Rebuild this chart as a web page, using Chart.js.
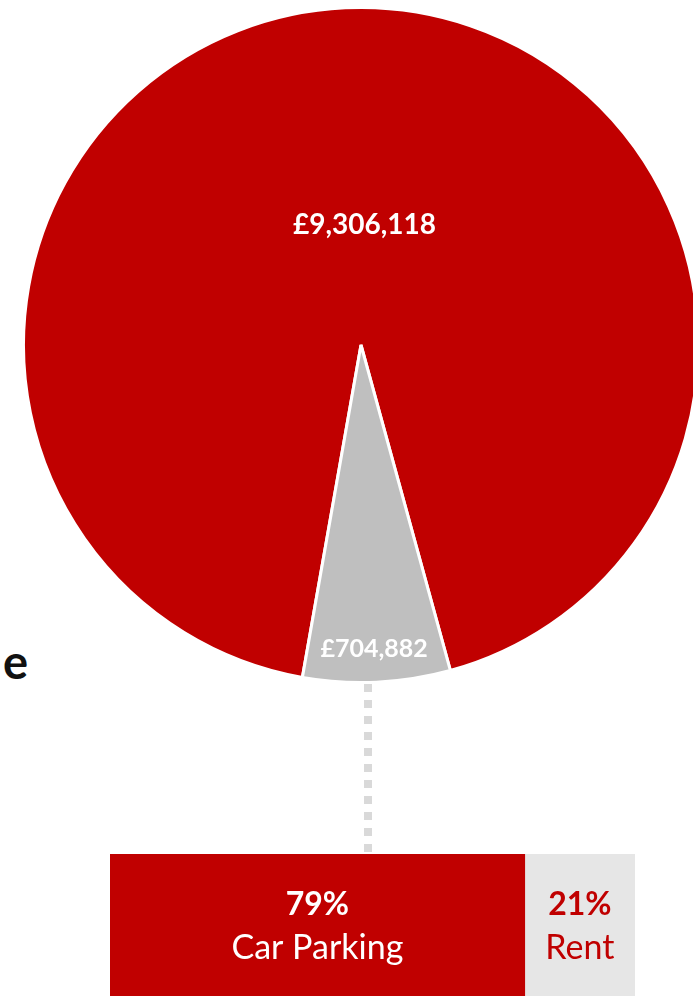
<!DOCTYPE html>
<html>
<head>
<meta charset="utf-8">
<script src="https://cdn.jsdelivr.net/npm/chart.js@4/dist/chart.umd.min.js"></script>
<style>
  html, body { margin: 0; padding: 0; background: #ffffff; }
  body { width: 693px; height: 996px; position: relative; overflow: hidden; font-family: Lato, "Open Sans", sans-serif; }
  #pieWrap { position: absolute; left: 22px; top: 6px; width: 678px; height: 678px; }
  #barWrap { position: absolute; left: 110px; top: 854px; width: 525px; height: 144px; }
  #leader { position: absolute; left: 364px; top: 684px; width: 8px; height: 169px;
            background: repeating-linear-gradient(to bottom, #d9d9d9 0 8px, transparent 8px 16px); }
  #tail { position: absolute; left: 3px; top: 638px; font: 700 47px Lato, sans-serif; line-height: 46px; color: #111; }
</style>
</head>
<body>
<div id="tail">e</div>
<div id="pieWrap"><canvas id="pie" width="678" height="678"></canvas></div>
<div id="leader"></div>
<div id="barWrap"><canvas id="bar" width="525" height="144"></canvas></div>
<script>
// Income split: main total vs. the "other" slice that is broken down below
const pieCategories = ['Main income', 'Other income'];
const pieValues = [9306118, 704882];

// Breakdown of the "other" slice
const splitCategories = ['Car Parking', 'Rent'];
const splitPercents = [79, 21];

const RED = '#C00000';
const PIE_GREY = '#BFBFBF';
const BAR_GREY = '#E6E6E6';

const money = v => '£' + v.toLocaleString('en-GB');

// Value labels placed inside each slice (radius fraction, angular nudge in degrees)
const labelSpots = [
  { frac: 0.357, nudge: 4.3, size: 28 },
  { frac: 0.90, nudge: 0.2, size: 25 }
];

const pieLabels = {
  id: 'pieLabels',
  afterDatasetsDraw(chart) {
    const ctx = chart.ctx;
    const meta = chart.getDatasetMeta(0);
    ctx.save();
    ctx.fillStyle = '#ffffff';
    ctx.textAlign = 'center';
    ctx.textBaseline = 'middle';
    meta.data.forEach((arc, i) => {
      const p = arc.getProps(['x', 'y', 'startAngle', 'endAngle', 'outerRadius'], true);
      const spot = labelSpots[i];
      const a = (p.startAngle + p.endAngle) / 2 + spot.nudge * Math.PI / 180;
      const r = p.outerRadius * spot.frac;
      ctx.font = '700 ' + spot.size + 'px Lato, sans-serif';
      ctx.fillText(money(pieValues[i]), p.x + Math.cos(a) * r, p.y + Math.sin(a) * r);
    });
    ctx.restore();
  }
};

new Chart(document.getElementById('pie'), {
  type: 'pie',
  data: {
    labels: pieCategories,
    datasets: [{
      data: pieValues,
      backgroundColor: [RED, PIE_GREY],
      borderColor: '#ffffff',
      borderWidth: 3
    }]
  },
  options: {
    responsive: false,
    animation: false,
    rotation: 190,
    layout: { padding: 0 },
    plugins: { legend: { display: false }, tooltip: { enabled: false } }
  },
  plugins: [pieLabels]
});

// Text inside the stacked breakdown bar
const barLabels = {
  id: 'barLabels',
  afterDatasetsDraw(chart) {
    const ctx = chart.ctx;
    ctx.save();
    ctx.textAlign = 'center';
    ctx.textBaseline = 'middle';
    chart.data.datasets.forEach((ds, i) => {
      const bar = chart.getDatasetMeta(i).data[0];
      const p = bar.getProps(['x', 'base', 'y'], true);
      const cx = (p.x + p.base) / 2;
      ctx.fillStyle = i === 0 ? '#ffffff' : RED;
      ctx.font = '700 32px Lato, sans-serif';
      ctx.fillText(splitPercents[i] + '%', cx, 51);
      ctx.font = '400 34px Lato, sans-serif';
      ctx.fillText(splitCategories[i], cx, 94);
    });
    ctx.restore();
  }
};

new Chart(document.getElementById('bar'), {
  type: 'bar',
  data: {
    labels: [''],
    datasets: splitCategories.map((c, i) => ({
      label: c,
      data: [splitPercents[i]],
      backgroundColor: i === 0 ? RED : BAR_GREY,
      borderWidth: 0,
      barPercentage: 1,
      categoryPercentage: 1
    }))
  },
  options: {
    indexAxis: 'y',
    responsive: false,
    animation: false,
    layout: { padding: 0 },
    scales: {
      x: { stacked: true, min: 0, max: 100, display: false },
      y: { stacked: true, display: false }
    },
    plugins: { legend: { display: false }, tooltip: { enabled: false } }
  },
  plugins: [barLabels]
});
</script>
</body>
</html>
